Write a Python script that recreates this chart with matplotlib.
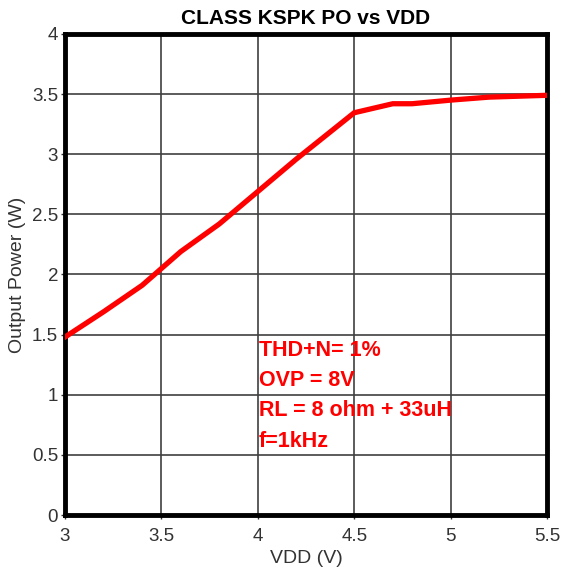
import matplotlib.pyplot as plt

plt.rcParams['font.family'] = ['Liberation Sans', 'DejaVu Sans']

vdd = [3.0, 3.2, 3.4, 3.6, 3.8, 4.0, 4.2, 4.5, 4.7, 4.8, 5.0, 5.2, 5.5]
po = [1.48, 1.69, 1.91, 2.19, 2.42, 2.69, 2.96, 3.345, 3.42, 3.42, 3.45, 3.475, 3.49]

notes = ['THD+N= 1%', 'OVP = 8V', 'RL = 8 ohm + 33uH', 'f=1kHz']
note_y = [1.37, 1.12, 0.865, 0.615]

xticks = [3, 3.5, 4, 4.5, 5, 5.5]
xlabels = ['3', '3.5', '4', '4.5', '5', '5.5']
yticks = [0, 0.5, 1, 1.5, 2, 2.5, 3, 3.5, 4]
ylabels = ['0', '0.5', '1', '1.5', '2', '2.5', '3', '3.5', '4']

fig = plt.figure(figsize=(5.62, 5.76), dpi=100)
ax = fig.add_axes([0.1157, 0.1059, 0.8576, 0.8351])

ax.plot(vdd, po, color='#ff0000', linewidth=3.8, solid_joinstyle='miter', zorder=3)

for t, yy in zip(notes, note_y):
    ax.text(4.006, yy, t, color='#ff0000', fontsize=15.5, fontweight='bold',
            ha='left', va='center', zorder=4)

ax.set_xlim(3, 5.5)
ax.set_ylim(0, 4)
ax.set_xticks(xticks)
ax.set_xticklabels(xlabels)
ax.set_yticks(yticks)
ax.set_yticklabels(ylabels)
ax.grid(True, color='#404040', linewidth=1.2)
ax.set_axisbelow(True)
for s in ax.spines.values():
    s.set_linewidth(3.5)
    s.set_color('black')
ax.tick_params(length=3, width=1, colors='#333333', labelsize=13.5, pad=2)
ax.tick_params(axis='x', pad=6)

ax.set_title('CLASS KSPK PO vs VDD', fontsize=15, fontweight='bold', pad=7)
ax.set_xlabel('VDD (V)', fontsize=14, color='#333333', labelpad=4)
ax.set_ylabel('Output Power (W)', fontsize=14, color='#333333', labelpad=4)

fig.savefig('out.png', dpi=100)
